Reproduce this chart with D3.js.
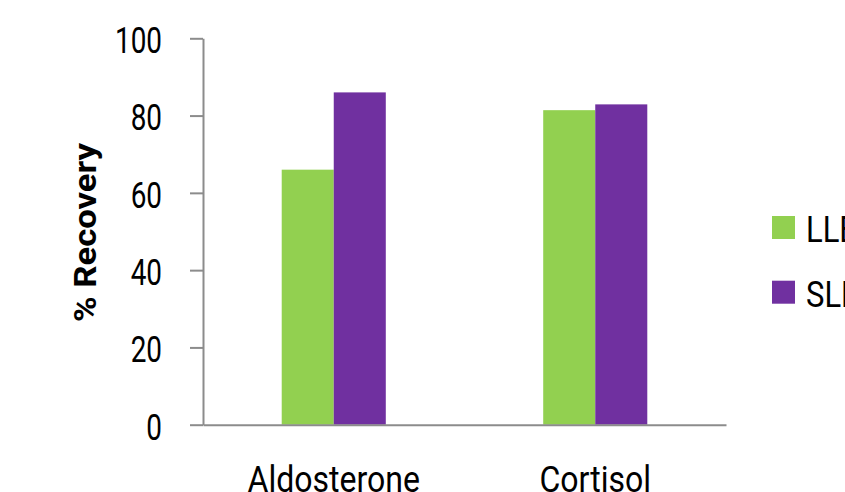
<!DOCTYPE html>
<html>
<head>
<meta charset="utf-8">
<script src="https://cdn.jsdelivr.net/npm/d3@7"></script>
<style>
  html, body { margin: 0; padding: 0; background: #fff; overflow: hidden; }
  svg { display: block; }
  text { font-family: Roboto, "Noto Sans", sans-serif; }
</style>
</head>
<body>
<svg id="chart" width="845" height="492"></svg>
<script>
// Recovery by extraction method
const categories = ["Aldosterone", "Cortisol"];
const seriesNames = ["LLE", "SLE"];
const lleValues = [66, 81.4];
const sleValues = [86, 82.9];
const yTicks = [0, 20, 40, 60, 80, 100];
const colors = ["#92d050", "#7030a0"];

const svg = d3.select("#chart");
const axisColor = "#8c8c8c";

// narrow a text horizontally to imitate a condensed face
function condense(sel, factor) {
  sel.each(function () {
    const w = this.getComputedTextLength();
    d3.select(this)
      .attr("textLength", w * factor)
      .attr("lengthAdjust", "spacingAndGlyphs");
  });
}

const x = d3.scaleBand()
  .domain(categories)
  .range([203, 726])
  .paddingInner(0.602)
  .paddingOuter(0.301);

const xInner = d3.scaleBand()
  .domain(seriesNames)
  .range([0, x.bandwidth()]);

const y = d3.scaleLinear()
  .domain([0, 100])
  .range([424.7, 38.3]);

const color = d3.scaleOrdinal().domain(seriesNames).range(colors);

const rows = categories.map((c, i) => ({
  category: c,
  values: [
    { series: "LLE", value: lleValues[i] },
    { series: "SLE", value: sleValues[i] }
  ]
}));

// bars
const groups = svg.append("g")
  .selectAll("g")
  .data(rows)
  .join("g")
  .attr("transform", d => `translate(${x(d.category)},0)`);

groups.selectAll("rect")
  .data(d => d.values)
  .join("rect")
  .attr("x", d => xInner(d.series))
  .attr("width", xInner.bandwidth())
  .attr("y", d => y(d.value))
  .attr("height", d => y(0) - y(d.value))
  .attr("fill", d => color(d.series));

// y axis
const yAxis = svg.append("g")
  .attr("transform", "translate(203,0)")
  .call(d3.axisLeft(y).tickValues(yTicks).tickSize(13).tickSizeOuter(0).tickPadding(28));
yAxis.select(".domain").attr("stroke", axisColor).attr("stroke-width", 2);
yAxis.selectAll(".tick line").attr("stroke", axisColor).attr("stroke-width", 2);
yAxis.selectAll(".tick text")
  .attr("font-size", 36)
  .attr("font-family", "Roboto")
  .attr("dy", "0.4em")
  .attr("fill", "#000")
  .call(condense, 0.775);

// x axis
const xAxis = svg.append("g")
  .attr("transform", `translate(0,${y(0)})`)
  .call(d3.axisBottom(x).tickSize(0).tickPadding(42));
xAxis.select(".domain").attr("stroke", axisColor).attr("stroke-width", 2);
xAxis.selectAll(".tick text")
  .attr("font-size", 36)
  .attr("font-family", "Roboto")
  .attr("fill", "#000")
  .call(condense, 0.89);

// y axis title
svg.append("text")
  .attr("transform", `translate(96,232.5) rotate(-90)`)
  .attr("text-anchor", "middle")
  .attr("font-size", 32)
  .attr("font-weight", "bold")
  .attr("fill", "#000")
  .attr("textLength", 179)
  .attr("lengthAdjust", "spacingAndGlyphs")
  .text("% Recovery");

// legend
const legend = svg.append("g")
  .selectAll("g")
  .data(seriesNames)
  .join("g")
  .attr("transform", (d, i) => `translate(772,${216 + i * 64.7})`);

legend.append("rect")
  .attr("width", 23)
  .attr("height", 23)
  .attr("fill", d => color(d));

legend.append("text")
  .attr("x", 34)
  .attr("y", 11.5)
  .attr("dy", "0.4em")
  .attr("font-size", 36)
  .attr("fill", "#000")
  .text(d => d)
  .call(condense, 0.86);
</script>
</body>
</html>
